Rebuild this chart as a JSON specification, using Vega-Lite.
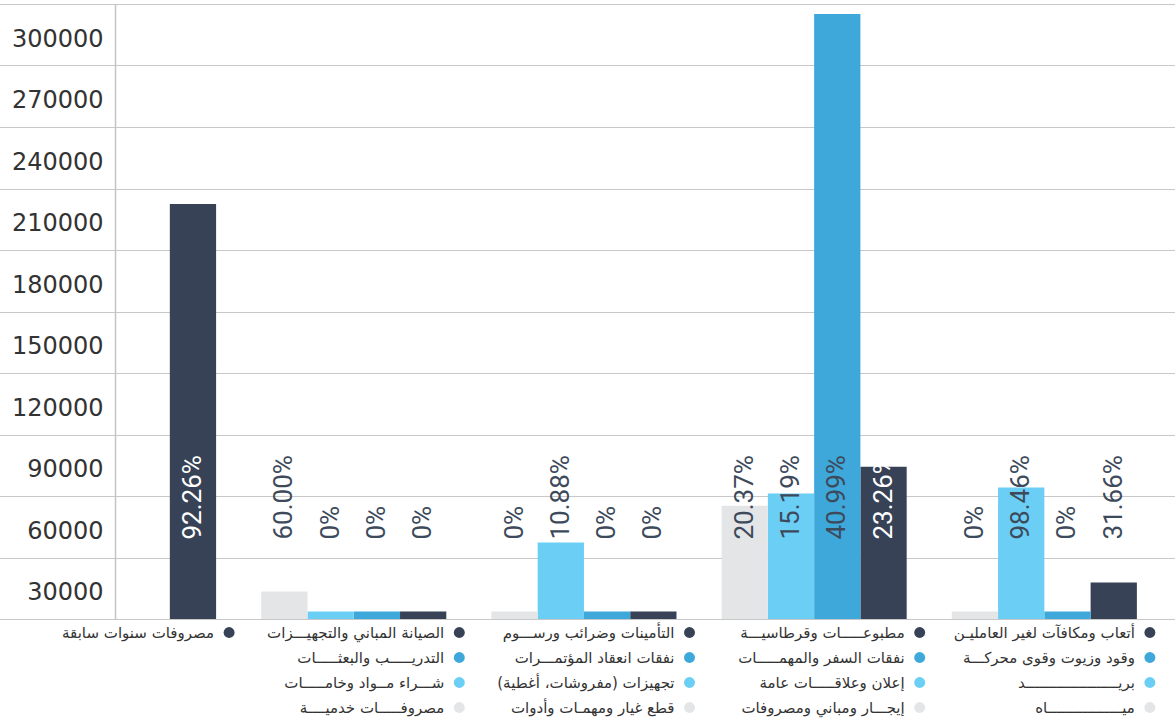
{
  "$schema": "https://vega.github.io/schema/vega-lite/v6.json",
  "padding": {"left": 0, "top": 4, "right": 0, "bottom": 0},
  "spacing": 1,
  "config": {"view": {"stroke": null}},
  "datasets": {
    "items": [
      {"group": 1, "series": 1, "name": "أتعاب ومكافآت لغير العامليـن", "value": 17800, "pct": "31.66%"},
      {"group": 1, "series": 2, "name": "وقود وزيوت وقوى محركـــة", "value": 3650, "pct": "0%"},
      {"group": 1, "series": 3, "name": "بريـــــــــــــــــــــد", "value": 64100, "pct": "98.46%"},
      {"group": 1, "series": 4, "name": "ميـــــــــــــــــاه", "value": 3650, "pct": "0%"},
      {"group": 2, "series": 1, "name": "مطبوعـــــات وقرطاسيـــة", "value": 74300, "pct": "23.26%"},
      {"group": 2, "series": 2, "name": "نفقات السفر والمهمـــــات", "value": 295100, "pct": "40.99%"},
      {"group": 2, "series": 3, "name": "إعلان وعلاقـــــات عامة", "value": 61200, "pct": "15.19%"},
      {"group": 2, "series": 4, "name": "إيجـــار ومباني ومصروفات", "value": 55300, "pct": "20.37%"},
      {"group": 3, "series": 1, "name": "التأمينات وضرائب ورســـوم", "value": 3650, "pct": "0%"},
      {"group": 3, "series": 2, "name": "نفقات انعقاد المؤتمـــرات", "value": 3650, "pct": "0%"},
      {"group": 3, "series": 3, "name": "‏تجهيزات (مفروشات، أغطية)‏", "value": 37300, "pct": "10.88%"},
      {"group": 3, "series": 4, "name": "قطع غيار ومهمـات وأدوات", "value": 3650, "pct": "0%"},
      {"group": 4, "series": 1, "name": "الصيانة المباني والتجهيـــزات", "value": 3650, "pct": "0%"},
      {"group": 4, "series": 2, "name": "التدريـــــب والبعثـــــات", "value": 3650, "pct": "0%"},
      {"group": 4, "series": 3, "name": "شـــراء مــواد وخامـــــات", "value": 3650, "pct": "0%"},
      {"group": 4, "series": 4, "name": "مصروفـــــات خدميــــة", "value": 13400, "pct": "60.00%"},
      {"group": 5, "series": 1, "name": "مصروفات سنوات سابقة", "value": 202500, "pct": "92.26%"}
    ]
  },
  "vconcat": [
    {
      "width": 1060,
      "height": 615,
      "data": {"name": "items"},
      "encoding": {
        "x": {"field": "group", "type": "nominal", "axis": null,
              "scale": {"type": "band", "domain": [5, 4, 3, 2, 1], "range": [-122.1, 1060], "paddingInner": 0.196, "paddingOuter": 0.1656}},
        "xOffset": {"field": "series", "type": "nominal",
              "scale": {"domain": [4, 3, 2, 1], "paddingInner": 0, "paddingOuter": 0}}
      },
      "layer": [
        {
          "mark": {"type": "bar"},
          "encoding": {
            "y": {"field": "value", "type": "quantitative", "title": null,
                  "scale": {"domain": [0, 300000], "nice": false, "zero": true},
                  "axis": {"values": [0, 30000, 60000, 90000, 120000, 150000, 180000, 210000, 240000, 270000, 300000],
                           "format": "d", "labelExpr": "datum.value == 0 ? '' : datum.label",
                           "ticks": false, "domain": true, "domainColor": "#c4c4c4", "domainWidth": 1.5,
                           "grid": true, "gridColor": "#c8c8c8", "gridWidth": 1.2,
                           "labelFont": "DejaVu Sans", "labelFontSize": 24, "labelColor": "#333333",
                           "labelPadding": 12, "labelOffset": 35, "minExtent": 115, "maxExtent": 115}},
            "color": {"field": "series", "type": "nominal", "legend": null,
                      "scale": {"domain": [1, 2, 3, 4], "range": ["#374256", "#3da8d9", "#6bcef4", "#e4e5e7"]}}
          }
        },
        {
          "mark": {"type": "text", "angle": 270, "align": "left", "baseline": "middle", "font": "Roboto", "fontSize": 26},
          "encoding": {
            "y": {"datum": 38750, "type": "quantitative", "title": null},
            "text": {"field": "pct", "type": "nominal"},
            "color": {"condition": {"test": "datum.series == 1 && datum.value > 60000", "value": "#ffffff"}, "value": "#3d4a5b"}
          }
        }
      ]
    },
    {
      "width": 1060,
      "height": 100,
      "data": {"name": "items"},
      "encoding": {
        "x": {"field": "group", "type": "nominal", "axis": null, "bandPosition": 1,
              "scale": {"type": "band", "domain": [5, 4, 3, 2, 1], "range": [-122.1, 1060], "paddingInner": 0.196, "paddingOuter": 0.1656}},
        "y": {"field": "series", "type": "nominal", "axis": null,
              "scale": {"domain": [1, 2, 3, 4], "paddingInner": 0, "paddingOuter": 0}}
      },
      "layer": [
        {
          "mark": {"type": "point", "filled": true, "size": 120, "opacity": 1, "xOffset": 13},
          "encoding": {
            "color": {"field": "series", "type": "nominal", "legend": null,
                      "scale": {"domain": [1, 2, 3, 4], "range": ["#374256", "#3da8d9", "#6bcef4", "#e4e5e7"]}}
          }
        },
        {
          "mark": {"type": "text", "align": "right", "baseline": "middle", "dx": -2, "font": "DejaVu Sans", "fontSize": 15, "color": "#333333"},
          "encoding": {"text": {"field": "name", "type": "nominal"}}
        }
      ]
    }
  ]
}
